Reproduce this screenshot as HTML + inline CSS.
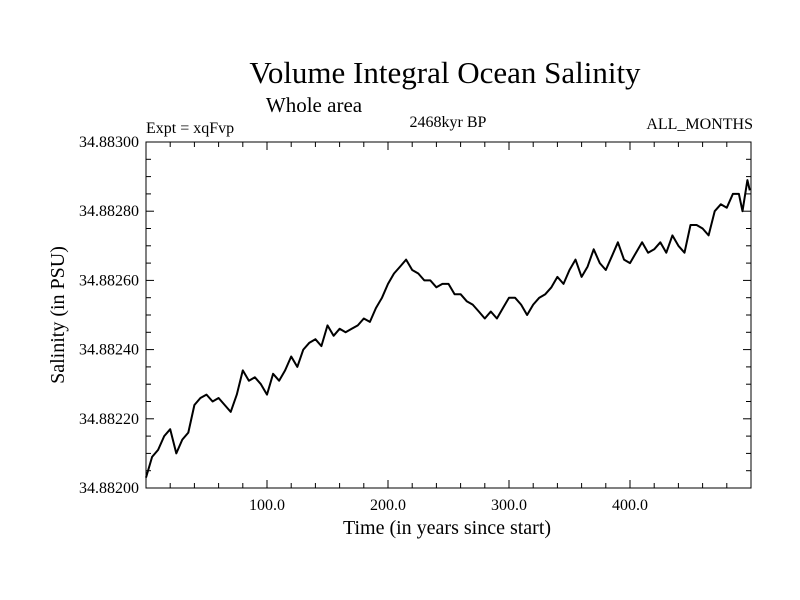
<!DOCTYPE html>
<html><head><meta charset="utf-8"><style>
body{margin:0;background:#fff}
svg{display:block;font-family:"Liberation Serif",serif}
</style></head><body>
<svg width="800" height="600">
<text x="445" y="83" font-size="31" text-anchor="middle">Volume Integral Ocean Salinity</text>
<text x="314" y="112" font-size="21" text-anchor="middle">Whole area</text>
<text x="146" y="133" font-size="16">Expt = xqFvp</text>
<text x="448" y="127" font-size="16" text-anchor="middle">2468kyr BP</text>
<text x="753" y="129" font-size="16" text-anchor="end">ALL_MONTHS</text>
<text x="447" y="534" font-size="20" text-anchor="middle">Time (in years since start)</text>
<text transform="translate(64,315) rotate(-90)" font-size="20" text-anchor="middle">Salinity (in PSU)</text>
<g id="axes"></g>
<path id="series" fill="none" stroke="#000" stroke-width="2" stroke-linejoin="round"/>
</svg>
<script>
const years=[0,5,10,15,20,25,30,35,40,45,50,55,60,65,70,75,80,85,90,95,100,105,110,115,120,125,130,135,140,145,150,155,160,165,170,175,180,185,190,195,200,205,210,215,220,225,230,235,240,245,250,255,260,265,270,275,280,285,290,295,300,305,310,315,320,325,330,335,340,345,350,355,360,365,370,375,380,385,390,395,400,405,410,415,420,425,430,435,440,445,450,455,460,465,470,475,480,485,490,493,497,499];
const salinityOffset=[3,9,11,15,17,10,14,16,24,26,27,25,26,24,22,27,34,31,32,30,27,33,31,34,38,35,40,42,43,41,47,44,46,45,46,47,49,48,52,55,59,62,64,66,63,62,60,60,58,59,59,56,56,54,53,51,49,51,49,52,55,55,53,50,53,55,56,58,61,59,63,66,61,64,69,65,63,67,71,66,65,68,71,68,69,71,68,73,70,68,76,76,75,73,80,82,81,85,85,80,89,86];
const yTickLabels=["34.88200","34.88220","34.88240","34.88260","34.88280","34.88300"];
const yTickValues=[0,20,40,60,80,100];
const xTickLabels=["100.0","200.0","300.0","400.0"];
const xTickValues=[100,200,300,400];
const L=146,R=751,T=142,B=488;
const xs=t=>L+(t/500)*(R-L);
const ys=v=>B-(v/100)*(B-T);
const ns="http://www.w3.org/2000/svg";
const g=document.getElementById('axes');
function mk(tag,attrs){const e=document.createElementNS(ns,tag);for(const k in attrs)e.setAttribute(k,attrs[k]);g.appendChild(e);return e;}
const frame=mk('rect',{x:L,y:T,width:R-L,height:B-T,fill:'none',stroke:'#000','stroke-width':1});


for(let t=20;t<500;t+=20){const major=t%100===0;const len=major?8:5;
 const a=mk('line',{x1:xs(t),x2:xs(t),y1:B,y2:B-len,stroke:'#000'});
 
 
 const b=mk('line',{x1:xs(t),x2:xs(t),y1:T,y2:T+len,stroke:'#000'});
 
 }
for(let v=5;v<100;v+=5){const major=v%20===0;const len=major?8:5;
 const a=mk('line',{x1:L,x2:L+len,y1:ys(v),y2:ys(v),stroke:'#000'});
 
 
 const b=mk('line',{x1:R,x2:R-len,y1:ys(v),y2:ys(v),stroke:'#000'});
 
 }
xTickLabels.forEach((s,i)=>{const e=mk('text',{x:xs(xTickValues[i]),y:B+22,'font-size':16,'text-anchor':'middle'});e.textContent=s;
 
 });
yTickLabels.forEach((s,i)=>{const e=mk('text',{x:L-7,y:ys(yTickValues[i])+5,'font-size':16,'text-anchor':'end'});e.textContent=s;
 
 });
document.getElementById('series').setAttribute('d',years.map((t,i)=>(i?'L':'M')+xs(t).toFixed(1)+','+ys(salinityOffset[i]).toFixed(1)).join(''));
</script>
</body></html>
